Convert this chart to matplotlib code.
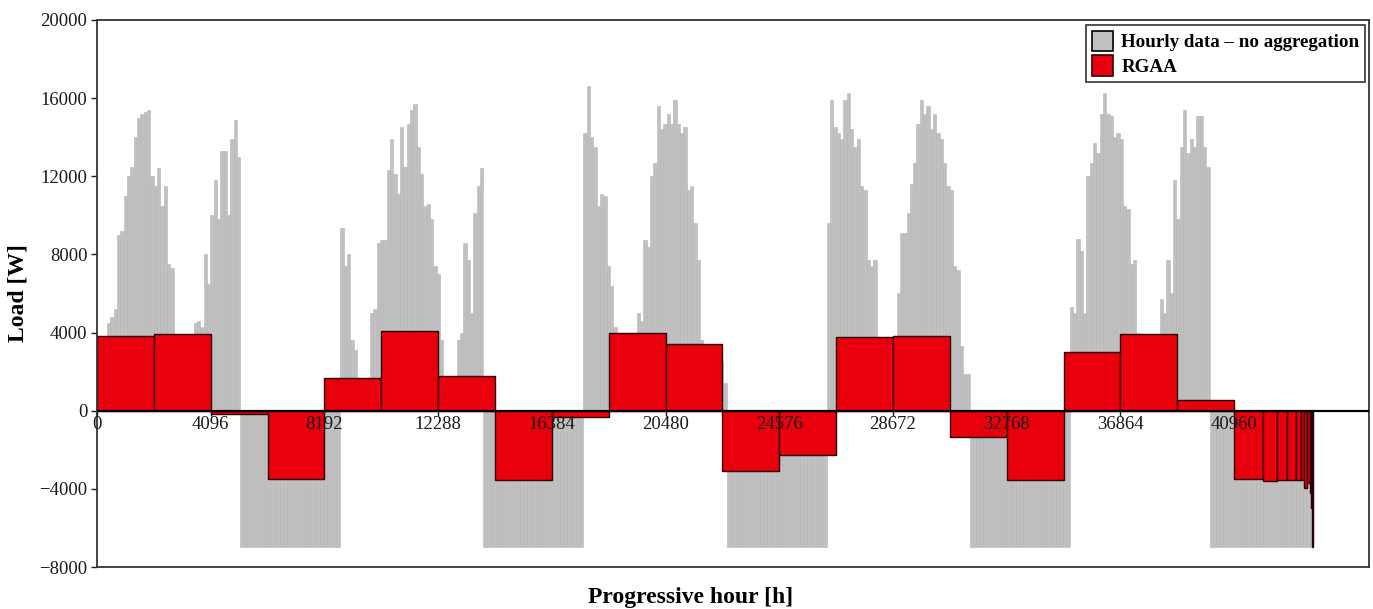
import numpy as np
import matplotlib
matplotlib.use("Agg")
import matplotlib.pyplot as plt
from matplotlib.patches import Patch

plt.rcParams["font.family"] = ["Liberation Serif", "DejaVu Serif"]
plt.rcParams["axes.unicode_minus"] = True

# hourly load, envelope per 120 h step, one list per year (W)
STEP_H = 120
YEAR_STARTS = [0, 8760, 17520, 26280, 35040]
year1 = [3500, 3500, 3600, 4500, 4800, 5200, 9000, 9200, 11000, 12000,
         12500, 14000, 15000, 15200, 15300, 15400, 12000, 11500, 12400, 10500,
         11500, 7500, 7300, 3800, 2800, 2800, 2800, 2800, 2800, 4500,
         4600, 4300, 8000, 6500, 10000, 11800, 9800, 13300, 13300, 10000,
         13900, 14900, 13000,
         -7000, -7000, -7000, -7000, -7000, -7000, -7000, -7000, -7000, -7000,
         -7000, -7000, -7000, -7000, -7000, -7000, -7000, -7000, -7000, -7000,
         -7000, -7000, -7000, -7000, -7000, -7000, -7000, -7000, -7000, -7000]
year2 = [9350, 7400, 8000, 3600, 3100, 1200, 1200, 1200, 1200, 5000,
         5200, 8600, 8750, 8750, 12300, 13900, 12100, 11100, 14500, 12500,
         14700, 15400, 15700, 13500, 12100, 10500, 10600, 9800, 7400, 7000,
         3600, 1200, 1200, 1200, 1200, 3600, 4000, 8600, 7700, 5000,
         10100, 11500, 12400,
         -7000, -7000, -7000, -7000, -7000, -7000, -7000, -7000, -7000, -7000,
         -7000, -7000, -7000, -7000, -7000, -7000, -7000, -7000, -7000, -7000,
         -7000, -7000, -7000, -7000, -7000, -7000, -7000, -7000, -7000, -7000]
year3 = [14200, 16600, 14000, 13500, 10500, 11100, 11000, 7400, 6400, 4300,
         3000, 3000, 3000, 3000, 3000, 3000, 5000, 4600, 8750, 8400,
         12000, 12700, 15600, 14400, 14700, 15200, 14700, 15900, 14700, 14200,
         14500, 11300, 11500, 9600, 7700, 3600, 2500, 2500, 2500, 2500,
         2500, 2500, 1400,
         -7000, -7000, -7000, -7000, -7000, -7000, -7000, -7000, -7000, -7000,
         -7000, -7000, -7000, -7000, -7000, -7000, -7000, -7000, -7000, -7000,
         -7000, -7000, -7000, -7000, -7000, -7000, -7000, -7000, -7000, -7000]
year4 = [9600, 15900, 14500, 14200, 13900, 15900, 16250, 14400, 13500, 13900,
         11500, 11300, 7700, 7400, 7700, 2800, 2800, 2800, 2800, 2800,
         2800, 6000, 9100, 9100, 10100, 11600, 12700, 14700, 15900, 15200,
         15600, 14400, 15200, 14200, 13900, 12700, 11500, 11300, 7400, 7200,
         3300, 1900, 1900,
         -7000, -7000, -7000, -7000, -7000, -7000, -7000, -7000, -7000, -7000,
         -7000, -7000, -7000, -7000, -7000, -7000, -7000, -7000, -7000, -7000,
         -7000, -7000, -7000, -7000, -7000, -7000, -7000, -7000, -7000, -7000]
year5 = [5300, 5000, 8800, 8200, 5000, 12000, 12700, 13700, 13200, 15200,
         16250, 15200, 15100, 14000, 14200, 13900, 10500, 10300, 7500, 7700,
         4000, 2800, 2800, 2800, 2800, 2800, 2800, 5700, 5000, 7700,
         6000, 11800, 9800, 13500, 15400, 13200, 13900, 13500, 15100, 15100,
         13500, 12500,
         -7000, -7000, -7000, -7000, -7000, -7000, -7000, -7000, -7000, -7000,
         -7000, -7000, -7000, -7000, -7000, -7000, -7000, -7000, -7000, -7000,
         -7000, -7000, -7000, -7000, -7000, -7000, -7000, -7000, -7000, -7000,
         -7000]
hourly_years = [year1, year2, year3, year4, year5]

# RGAA aggregated blocks (edges in hours, mean load in W)
rgaa_edges = [0, 2048, 4096, 6144, 8192, 10240, 12288, 14336, 16384, 18432,
              20480, 22528, 24576, 26624, 28672, 30720, 32768, 34816, 36864,
              38912, 40960, 41984, 42496, 42880, 43200, 43360, 43480, 43580,
              43680, 43740, 43780, 43800]
rgaa_values = [3800, 3920, -180, -3500, 1690, 4060, 1760, -3530, -300, 3980,
               3430, -3100, -2250, 3770, 3840, -1350, -3530, 3020, 3940, 530,
               -3480, -3580, -3530, -3540, -3550, -3560, -3940, -3700, -4200,
               -5000, -7000]

xticks = [0, 4096, 8192, 12288, 16384, 20480, 24576, 28672, 32768, 36864, 40960]
yticks = [-8000, -4000, 0, 4000, 8000, 12000, 16000, 20000]

GRAY = "#c0c0c0"
RED = "#e8000d"
YMIN, YMAX = -8000, 20000

fig = plt.figure(figsize=(13.73, 6.09), dpi=100)
ax = fig.add_axes([97 / 1373, 42 / 609, 1272 / 1373, 547 / 609])

for start, vals in zip(YEAR_STARTS, hourly_years):
    xs = start + np.arange(len(vals)) * STEP_H
    ax.bar(xs, vals, width=STEP_H, align="edge", color=GRAY,
           edgecolor="#b4b4b4", linewidth=0.4, zorder=1)

left = np.array(rgaa_edges[:-1])
width = np.diff(rgaa_edges)
ax.bar(left, rgaa_values, width=width, align="edge", color=RED,
       edgecolor="#2a0000", linewidth=1.0, zorder=2)

ax.axhline(0, color="black", lw=1.6, zorder=5)
ax.set_xlim(0, 45820)
ax.set_ylim(YMIN, YMAX)
ax.set_yticks(yticks)
ax.set_xticks([])
ax.tick_params(axis="y", direction="out", length=4, width=1, pad=3,
               labelsize=13.5, colors="#1a1a1a")
for sp in ax.spines.values():
    sp.set_color("#333333")
    sp.set_linewidth(1.3)

# x tick labels sit on the zero line, above the bars
sec = ax.secondary_xaxis((0 - YMIN) / (YMAX - YMIN))
sec.set_xticks(xticks)
sec.tick_params(direction="out", length=3.5, width=1, pad=0.5,
                labelsize=13.5, colors="#1a1a1a")
sec.spines["bottom"].set_visible(False)
sec.set_zorder(10)

ax.set_ylabel("Load [W]", fontsize=17, fontweight="bold", labelpad=8)
fig.text(691 / 1373, 1 - 597 / 609, "Progressive hour [h]", fontsize=17,
         fontweight="bold", ha="center", va="center")

handles = [Patch(facecolor=GRAY, edgecolor="black", linewidth=1.2),
           Patch(facecolor=RED, edgecolor="#2a0000", linewidth=1.2)]
leg = ax.legend(handles, ["Hourly data \u2013 no aggregation", "RGAA"],
                loc="upper right", bbox_to_anchor=(0.997, 0.991),
                borderaxespad=0, fancybox=False, framealpha=1,
                prop={"weight": "bold", "size": 13.7}, handlelength=1.1,
                handleheight=1.3, handletextpad=0.45, borderpad=0.3,
                labelspacing=0.2)
leg.get_frame().set_edgecolor("#333333")
leg.get_frame().set_linewidth(1.2)
leg.set_zorder(20)

fig.savefig("out.png", dpi=100, facecolor="white")
